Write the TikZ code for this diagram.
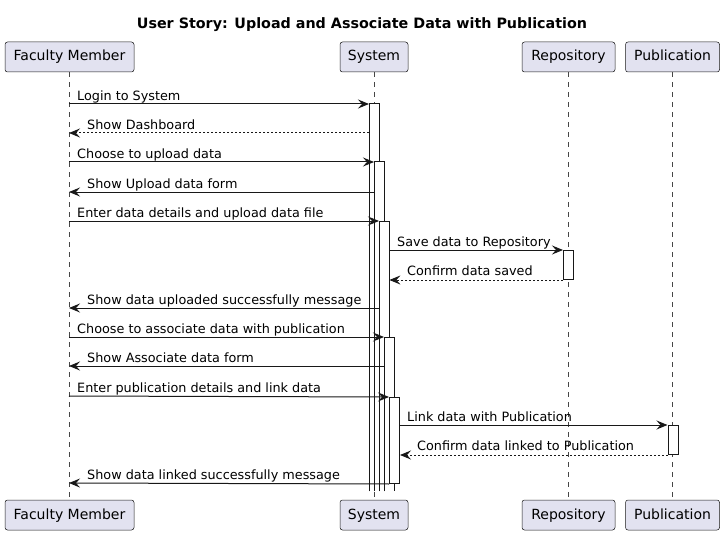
\documentclass[tikz,border=0pt]{standalone}
\usepackage{fontspec}
\setmainfont{DejaVu Sans}
\usetikzlibrary{arrows.meta}
\definecolor{partfill}{HTML}{E2E2F0}
\definecolor{ink}{HTML}{181818}
\begin{document}
\begin{tikzpicture}[x=1pt,y=-1pt,
 part/.style={draw=ink, fill=partfill, rounded corners=2.5pt, minimum height=30pt, inner sep=0pt, text height=8pt, text depth=0pt, font=\fontsize{14}{16}\selectfont, line width=0.5pt},
 life/.style={draw=ink!80, dash pattern=on 5pt off 5pt, line width=0.5pt},
 actbar/.style={draw=ink, fill=white, line width=1pt, minimum width=10pt, inner sep=0pt, anchor=north west},
 openbar/.style={fill=white, draw=none, minimum width=10pt, inner sep=0pt, anchor=north west},
 baredge/.style={draw=ink, line width=1pt},
 msg/.style={draw=ink, line width=1pt, -{Stealth[length=11pt,width=9pt,inset=4pt]}},
 ret/.style={msg, dash pattern=on 2pt off 2pt},
 lbl/.style={font=\fontsize{12.8}{15}\selectfont, anchor=base west, inner sep=0pt, text=black}]
\useasboundingbox (0,0) rectangle (724,535);
% title
\node[font=\bfseries\fontsize{14.3}{16}\selectfont, anchor=base] (title) at (362,28.5) {User Story: Upload and Associate Data with Publication};
% participants
\node[part, minimum width=129pt] (fmT) at (69.5,57) {Faculty Member};
\node[part, minimum width=68pt] (sysT) at (374,57) {System};
\node[part, minimum width=93pt] (repT) at (568.5,57) {Repository};
\node[part, minimum width=94pt] (pubT) at (672.5,57) {Publication};
\node[part, minimum width=129pt] (fmB) at (69.5,515) {Faculty Member};
\node[part, minimum width=68pt] (sysB) at (374,515) {System};
\node[part, minimum width=93pt] (repB) at (568.5,515) {Repository};
\node[part, minimum width=94pt] (pubB) at (672.5,515) {Publication};
% lifelines
\draw[life] (fmT.south) -- (fmB.north);
\draw[life] (sysT.south) -- (sysB.north);
\draw[life] (repT.south) -- (repB.north);
\draw[life] (pubT.south) -- (pubB.north);
% activation bars (open at the bottom, still active at the end)
\node[openbar, minimum height=387pt] (a1) at (369,104) {};
\draw[baredge] (a1.south west) -- (a1.north west) -- (a1.north east) -- (a1.south east);
\node[openbar, minimum height=329pt] (a2) at (374,162) {};
\draw[baredge] (a2.south west) -- (a2.north west) -- (a2.north east) -- (a2.south east);
\node[openbar, minimum height=270pt] (a3) at (379,221) {};
\draw[baredge] (a3.south west) -- (a3.north west) -- (a3.north east) -- (a3.south east);
\node[openbar, minimum height=154pt] (a4) at (384,337) {};
\draw[baredge] (a4.south west) -- (a4.north west) -- (a4.north east) -- (a4.south east);
\node[actbar, minimum height=86pt] (a5) at (389,397) {};
\node[actbar, minimum height=29pt] (r1) at (563,250) {};
\node[actbar, minimum height=29pt] (p1) at (667.5,425) {};
% endpoints on Faculty Member lifeline
\coordinate (f1) at (69,104);
\coordinate (f2) at (69,133);
\coordinate (f3) at (69,162);
\coordinate (f4) at (69,192);
\coordinate (f5) at (69,221);
\coordinate (f8) at (69,308);
\coordinate (f9) at (69,337);
\coordinate (f10) at (69,366);
\coordinate (f11) at (69,396);
\coordinate (f14) at (69,483);
% messages
\draw[msg] (f1) -- (a1.north west);
\node[lbl] (l1) at (77,100.5) {Login to System};
\draw[ret] (a1.west |- f2) -- (f2);
\node[lbl] (l2) at (87,129.5) {Show Dashboard};
\draw[msg] (f3) -- (a2.north west);
\node[lbl] (l3) at (77,158.5) {Choose to upload data};
\draw[msg] (a2.west |- f4) -- (f4);
\node[lbl] (l4) at (87,188.5) {Show Upload data form};
\draw[msg] (f5) -- (a3.north west);
\node[lbl] (l5) at (77,217.5) {Enter data details and upload data file};
\draw[msg] (a3.east |- r1.north) -- (r1.north west);
\node[lbl] (l6) at (397,246.5) {Save data to Repository};
\draw[ret] (r1.south west) -- (a3.east |- r1.south);
\node[lbl] (l7) at (407,275.5) {Confirm data saved};
\draw[msg] (a3.west |- f8) -- (f8);
\node[lbl] (l8) at (87,304.5) {Show data uploaded successfully message};
\draw[msg] (f9) -- (a4.north west);
\node[lbl] (l9) at (77,333.5) {Choose to associate data with publication};
\draw[msg] (a4.west |- f10) -- (f10);
\node[lbl] (l10) at (87,362.5) {Show Associate data form};
\draw[msg] (f11) -- (a5.north west);
\node[lbl] (l11) at (77,392.5) {Enter publication details and link data};
\draw[msg] (a5.east |- p1.north) -- (p1.north west);
\node[lbl] (l12) at (407,421.5) {Link data with Publication};
\draw[ret] (p1.south west) -- (a5.east |- p1.south);
\node[lbl] (l13) at (417,450.5) {Confirm data linked to Publication};
\draw[msg] (a5.south west) -- (f14);
\node[lbl] (l14) at (87,479.5) {Show data linked successfully message};
\end{tikzpicture}
\end{document}
